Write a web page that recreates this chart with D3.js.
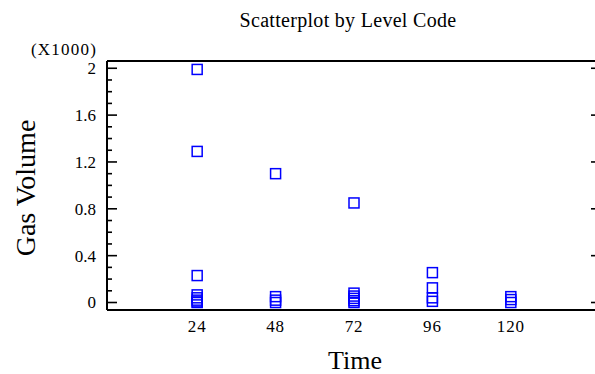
<!DOCTYPE html>
<html>
<head>
<meta charset="utf-8">
<script src="https://cdn.jsdelivr.net/npm/d3@7"></script>
<style>
  body { margin: 0; background: #fff; }
  svg { display: block; }
  text { font-family: "Liberation Serif", "Times New Roman", serif; fill: #000; }
</style>
</head>
<body>
<svg id="chart" width="595" height="374"></svg>
<script>
// Observations: time (hours) and gas volume
const times = [24, 24, 24, 24, 24, 24, 24, 24,
               48, 48, 48, 48,
               72, 72, 72, 72, 72, 72,
               96, 96, 96, 96,
               120, 120, 120];
const gasVolume = [1990, 1290, 230, 65, 40, 20, 5, 0,
                   1100, 50, 20, 0,
                   850, 80, 55, 35, 15, 0,
                   255, 125, 40, 10,
                   50, 25, 0];
const xTicks = [24, 48, 72, 96, 120];
const yTicks = [0, 400, 800, 1200, 1600, 2000];
const yMinorTicks = d3.range(0, 2001, 100);

const svg = d3.select("#chart");
const plot = { left: 107, right: 601, top: 61, bottom: 310 };

const x = d3.scaleLinear().domain([-3.6, 147.6]).range([plot.left, plot.right]);
const y = d3.scaleLinear().domain([-64, 2062]).range([plot.bottom, plot.top]);

// frame
const frame = svg.append("g").attr("stroke", "#000").attr("stroke-width", 2).attr("fill", "none");
frame.append("line").attr("x1", plot.left).attr("x2", plot.right).attr("y1", plot.top).attr("y2", plot.top);
frame.append("line").attr("x1", plot.left).attr("x2", plot.right).attr("y1", plot.bottom).attr("y2", plot.bottom);
frame.append("line").attr("x1", plot.left).attr("x2", plot.left).attr("y1", plot.top).attr("y2", plot.bottom);
frame.append("line").attr("x1", plot.right).attr("x2", plot.right).attr("y1", plot.top).attr("y2", plot.bottom);

// left axis ticks (inward), major + minor
svg.append("g").selectAll("line").data(yMinorTicks).join("line")
  .attr("x1", plot.left).attr("x2", d => plot.left + (d % 400 === 0 ? 10 : 5))
  .attr("y1", d => y(d)).attr("y2", d => y(d))
  .attr("stroke", "#000").attr("stroke-width", 1.6);

// right axis ticks (inward), major only
svg.append("g").selectAll("line").data(yTicks).join("line")
  .attr("x1", plot.right).attr("x2", plot.right - 10)
  .attr("y1", d => y(d)).attr("y2", d => y(d))
  .attr("stroke", "#000").attr("stroke-width", 1.6);

// y tick labels, in thousands
svg.append("g").selectAll("text").data(yTicks).join("text")
  .attr("x", 96).attr("y", d => y(d)).attr("dy", "0.35em")
  .attr("text-anchor", "end").attr("font-size", 17)
  .text(d => d3.format("~g")(d / 1000));

svg.append("text").attr("x", 97).attr("y", 55).attr("text-anchor", "end")
  .attr("font-size", 17).attr("letter-spacing", 1.2).text("(X1000)");

// x tick labels
svg.append("g").selectAll("text").data(xTicks).join("text")
  .attr("x", d => x(d)).attr("y", 332).attr("text-anchor", "middle")
  .attr("font-size", 17).attr("letter-spacing", 0.8).text(d => d);

// titles
svg.append("text").attr("x", 348).attr("y", 27).attr("text-anchor", "middle")
  .attr("font-size", 20).attr("letter-spacing", 0.3).text("Scatterplot by Level Code");
svg.append("text").attr("x", 355).attr("y", 369).attr("text-anchor", "middle")
  .attr("font-size", 26).text("Time");
svg.append("text").attr("transform", "translate(35,188) rotate(-90)")
  .attr("text-anchor", "middle").attr("font-size", 28).text("Gas Volume");

// points as open squares
const s = 10;
svg.append("g").selectAll("rect").data(times.map((t, i) => [t, gasVolume[i]])).join("rect")
  .attr("x", d => x(d[0]) - s / 2).attr("y", d => y(d[1]) - s / 2)
  .attr("width", s).attr("height", s)
  .attr("fill", "none").attr("stroke", "#0000ff").attr("stroke-width", 1.5);
</script>
</body>
</html>
